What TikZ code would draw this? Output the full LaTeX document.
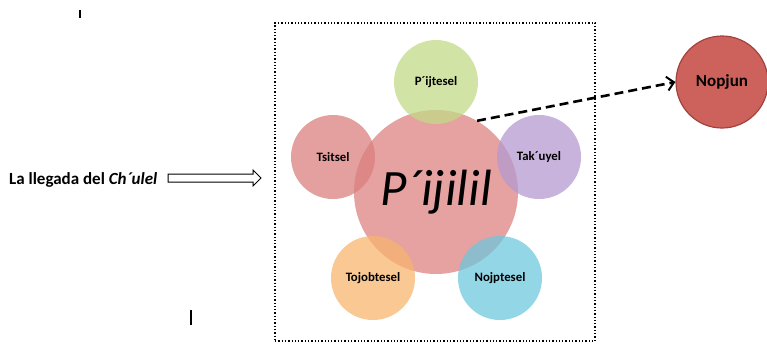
\documentclass[tikz,border=0pt]{standalone}
\usepackage{fontspec}
\setmainfont{Carlito}
\usetikzlibrary{arrows.meta,shapes.arrows}
\definecolor{cCenter}{HTML}{DD8181}
\definecolor{cGreen}{HTML}{C3D988}
\definecolor{cRed}{HTML}{DB7F7F}
\definecolor{cPurple}{HTML}{B499D0}
\definecolor{cOrange}{HTML}{F7B56F}
\definecolor{cCyan}{HTML}{6FC8DD}
\definecolor{cNop}{HTML}{CD625C}
\definecolor{cNopB}{HTML}{A3423D}
\tikzset{
  petal/.style={circle, minimum size=84pt, inner sep=0pt, fill opacity=0.75, text opacity=1, font=\fontsize{12.8}{15}\selectfont\bfseries},
  hub/.style={circle, minimum size=164pt, inner sep=0pt, fill=cCenter, fill opacity=0.75, text opacity=1, font=\fontsize{51}{58}\selectfont\itshape},
  goal/.style={circle, minimum size=92pt, inner sep=0pt, fill=cNop, draw=cNopB, line width=1.2pt, font=\fontsize{17}{20}\selectfont\bfseries},
  frame/.style={draw, dotted, line width=1.3pt},
  dasharrow/.style={line width=2.6pt, dash pattern=on 9pt off 5pt, -{Straight Barb[length=7pt,width=14pt,line width=2pt]}},
  hollowarrow/.style={single arrow, draw, line width=1pt, fill=white, minimum height=93pt, inner xsep=0pt, inner ysep=3.5pt, single arrow head extend=4pt, single arrow head indent=0pt, shape border rotate=0, single arrow tip angle=90},
  cursor/.style={line width=1.2pt}
}
\begin{document}
\begin{tikzpicture}[x=1pt,y=-1pt]
\useasboundingbox (0,0) rectangle (767,343);
\node[frame, minimum width=320pt, minimum height=318pt, inner sep=0pt] (box) at (435,182) {};
\node[hub] (hub) at (436,192) {P´ijilil};
\node[petal, fill=cGreen] (p1) at (436,82) {P´ijtesel};
\node[petal, fill=cRed] (p2) at (333,157) {Tsitsel};
\node[petal, fill=cPurple] (p3) at (539,157) {Tak´uyel};
\node[petal, fill=cOrange] (p4) at (373,278) {Tojobtesel};
\node[petal, fill=cCyan] (p5) at (500,278) {Nojptesel};
\node[goal] (nop) at (722,82) {Nopjun};
\draw[dasharrow] (hub.60) -- (nop.west);
\node[anchor=west, inner sep=0pt, font=\fontsize{17}{20}\selectfont\bfseries] (lt) at (9,180) {La llegada del \textit{Ch´ulel}};
\node[hollowarrow] (harrow) at (212.5,178) {};
\coordinate (c1a) at (80,10);
\coordinate (c1b) at (80,18);
\draw[cursor] (c1a) -- (c1b);
\coordinate (c2a) at (191,310);
\coordinate (c2b) at (191,325);
\draw[cursor] (c2a) -- (c2b);
\end{tikzpicture}
\end{document}
